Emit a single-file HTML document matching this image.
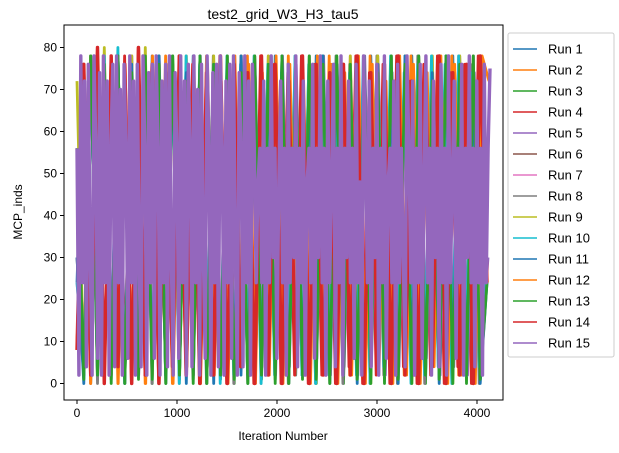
<!DOCTYPE html>
<html><head><meta charset="utf-8"><style>
body{margin:0;background:#fff;}
svg{display:block;font-family:"Liberation Sans","DejaVu Sans",sans-serif;}
</style></head><body>
<svg id="c" width="619" height="453"></svg>
<script>
const runNames=["Run 1","Run 2","Run 3","Run 4","Run 5","Run 6","Run 7","Run 8","Run 9","Run 10","Run 11","Run 12","Run 13","Run 14","Run 15"];
const runColors=["#1f77b4","#ff7f0e","#2ca02c","#d62728","#9467bd","#8c564b","#e377c2","#7f7f7f","#bcbd22","#17becf","#1f77b4","#ff7f0e","#2ca02c","#d62728","#9467bd"];
const xTicks=[0,1000,2000,3000,4000];
const yTicks=[0,10,20,30,40,50,60,70,80];
const run1=[24,76,0,78,2,72,4,76,0,74,2,78,0,76,4,72,0,78,2,76,0,74,6,78,2,76,0,72,4,78,0,76,2,74,0,78,2,76,0,72,2,76,0,78,4,74,0,76,2,78,0,72,4,76,0,78,2,74,0,76,24];
const run2=[8,74,0,76,2,78,0,56,4,76,0,72,2,78,0,76,6,74,0,78,2,76,0,72,4,78,0,76,2,74,0,78,2,76,0,72,4,78,0,76,2,74,0,78,6,76,0,72,2,78,0,76,4,74,0,78,2,76,0,72,74];
const run3=[56,2,78,1,76,0,78,2,74,1,78,0,76,2,78,1,72,0,78,2,76,1,78,0,74,2,78,1,76,0,78,2,74,1,78,0,76,2,78,0,76,1,78,2,74,0,78,1,76,2,78,0,72,1,78,2,76,0,78,1,56];
const run4=[8,76,2,80,0,76,4,78,0,80,2,76,0,72,4,78,2,76,0,74,2,78,0,76,4,72,0,78,2,76,0,74,2,78,0,76,2,72,0,76,4,78,0,74,2,76,0,78,4,72,0,76,2,78,0,74,4,76,0,78,24];
const run5=[56,2,78,4,72,2,76,6,78,2,74,4,78,2,76,6,72,2,78,4,76,2,74,6,78,2,76,4,72,2,78,4,76,2,74,6,78,2,76,4,72,2,78,6,76,2,74,4,78,2,76,6,72,2,78,4,76,2,74,6,30];
const run6=[30,2,76,4,72,2,78,6,74,2,76,4,78,2,72,6,76,2,78,4,74,2,76,6,72,2,78,4,76,2,74,6,78,2,76,4,72,2,78,4,76,2,74,6,78,2,72,4,76,2,78,6,74,2,76,4,78,2,72,4,56];
const run7=[24,4,76,2,78,6,72,2,76,4,78,2,74,6,76,2,78,4,72,2,76,6,78,2,74,4,76,2,78,6,72,2,76,4,78,2,74,6,76,2,78,4,72,2,76,6,78,2,74,4,76,2,78,6,72,2,76,4,78,2,56];
const run8=[56,2,78,0,76,2,74,0,78,4,76,0,72,2,78,0,76,2,74,0,78,2,76,0,72,4,78,0,76,2,74,0,78,2,76,0,72,2,78,0,76,4,74,0,78,2,76,0,72,2,78,0,76,4,74,0,78,2,76,0,30];
const run9=[72,2,78,4,80,2,76,0,78,4,80,2,78,0,76,2,78,4,76,0,78,2,76,4,78,0,76,2,78,4,76,0,78,2,76,4,78,0,76,2,78,4,76,0,78,2,76,4,78,0,76,2,78,4,76,0,78,2,76,4,56];
const run10=[24,2,76,4,78,2,80,0,76,2,74,4,78,2,76,0,78,4,76,2,74,0,78,2,76,4,78,0,76,2,74,4,78,2,76,0,78,2,76,4,74,2,78,0,76,4,78,2,74,0,76,2,78,4,76,0,78,2,74,4,30];
const run11=[30,0,76,2,74,4,78,0,76,2,72,4,78,0,76,2,74,4,78,0,76,2,72,4,78,0,76,2,74,4,78,0,76,2,72,4,78,0,76,2,74,0,78,4,76,2,72,0,78,4,76,2,74,0,78,4,76,2,72,0,24];
const run12=[8,76,0,74,2,78,0,76,4,72,0,78,2,76,0,74,4,78,0,76,2,72,0,78,4,76,0,74,2,78,0,76,4,72,0,78,2,76,0,74,2,78,0,76,4,72,0,78,2,76,0,74,4,78,0,76,2,72,0,78,72];
const run13=[56,1,78,2,76,1,78,0,74,2,78,1,76,0,78,2,72,1,78,0,76,2,78,1,74,0,78,2,76,1,78,0,74,2,78,1,76,0,78,2,76,1,78,0,74,2,78,1,76,0,78,2,72,1,78,0,76,2,78,1,24];
const run14=[8,76,2,80,0,78,4,76,0,80,2,76,0,74,4,78,2,76,0,72,2,78,0,76,4,74,0,78,2,76,0,72,4,78,0,76,2,74,0,76,2,78,0,74,4,76,0,78,2,72,0,76,4,78,0,74,2,76,0,78,24];
const run15=[56,2,78,24,72,4,76,30,2,78,56,6,74,2,78,24,72,2,56,76,4,78,24,70,2,76,56,6,78,24,72,2,76,30,4,78,56,2,74,24,76,6,78,56,2,72,24,76,4,78,30,2,74,56,6,78,24,72,2,76,
56,4,78,24,70,2,76,30,6,78,56,2,74,24,76,4,78,56,2,72,24,76,6,78,30,2,74,56,4,78,24,72,2,76,56,24,48,56,24,72,
2,56,24,78,30,56,6,48,72,24,56,2,76,24,56,30,78,4,56,24,72,2,48,56,24,76,6,56,30,78,24,56,2,72,24,48,76,4,56,24,
78,2,56,30,72,24,56,6,76,24,48,2,78,56,24,72,4,56,30,76,2,56,24,78,6,48,56,24,72,2,76,24,56,30,4,78,56,24,72,2,
56,24,76,6,48,78,24,56,2,72,30,56,4,76,24,56,2,78,24,48,72,6,56,24,76,2,56,30,78,24,56,4,72,24,56,2,76,24,56,75];
const series=[run1,run2,run3,run4,run5,run6,run7,run8,run9,run10,run11,run12,run13,run14,run15];
const lastIter=[4100,4090,4100,4080,4110,4100,4100,4090,4100,4090,4100,4120,4100,4100,4130];

const svg=document.getElementById('c');
const NS='http://www.w3.org/2000/svg';
const L=64,R=503,T=25,B=400;
const xs=v=>77+v*0.1;
const ys=v=>383.5-v*4.2;
function mk(tag,attrs,parent){const e=document.createElementNS(NS,tag);for(const k in attrs)e.setAttribute(k,attrs[k]);(parent||svg).appendChild(e);return e;}

const clip=mk('clipPath',{id:'clp'});mk('rect',{x:L,y:T,width:R-L,height:B-T},clip);
const g=mk('g',{'clip-path':'url(#clp)'});
series.forEach((s,i)=>{
  const step=lastIter[i]/(s.length-1);
  const pts=s.map((v,j)=>xs(j*step).toFixed(1)+','+ys(v).toFixed(1)).join(' ');
  const w=i===14?3.4:(i===13?3.4:2.8);
  const p=mk('polyline',{points:pts,fill:'none',stroke:runColors[i],'stroke-width':w,'stroke-linejoin':'round'},g);
  
  
});
const frame=mk('rect',{x:L,y:T,width:R-L,height:B-T,fill:'none',stroke:'#000','stroke-width':1});



xTicks.forEach(t=>{
  const x=xs(t);
  mk('line',{x1:x,x2:x,y1:B,y2:B+4,stroke:'#000'});
  const tx=mk('text',{x:x,y:B+17,'text-anchor':'middle','font-size':12});tx.textContent=t;
  
  
});
yTicks.forEach(t=>{
  const y=ys(t);
  mk('line',{x1:L-4,x2:L,y1:y,y2:y,stroke:'#000'});
  const tx=mk('text',{x:L-7,y:y+4,'text-anchor':'end','font-size':12});tx.textContent=t;
  
  
});
const xt=mk('text',{x:283,y:440,'text-anchor':'middle','font-size':12});xt.textContent='Iteration Number';


const yt=mk('text',{x:22,y:212,'text-anchor':'middle','font-size':12,transform:'rotate(-90 22 212)'});yt.textContent='MCP_inds';


const tt=mk('text',{x:283,y:19,'text-anchor':'middle','font-size':14});tt.textContent='test2_grid_W3_H3_tau5';



const lg=mk('g',{});


mk('rect',{x:508,y:33,width:106,height:324,rx:2,fill:'#fff',stroke:'#ccc'},lg);
runNames.forEach((n,i)=>{
  const y=49+i*21;
  const e=mk('g',{},lg);
  
  
  mk('line',{x1:513,x2:537,y1:y,y2:y,stroke:runColors[i],'stroke-width':1.5},e);
  const t=mk('text',{x:548,y:y+4.5,'font-size':13},e);t.textContent=n;
});
</script>
</body></html>
